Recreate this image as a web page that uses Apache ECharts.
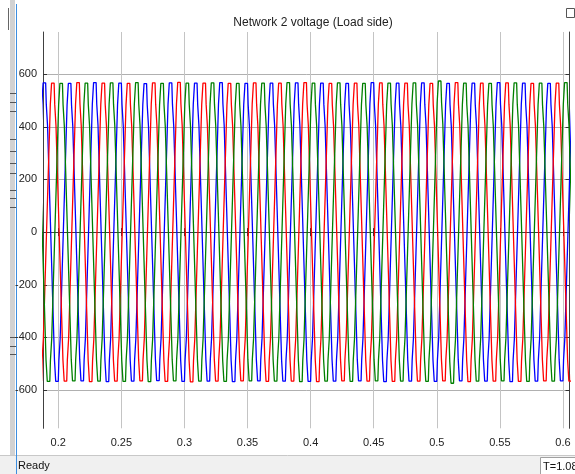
<!DOCTYPE html>
<html><head><meta charset="utf-8">
<script src="https://cdn.jsdelivr.net/npm/echarts@6/dist/echarts.min.js"></script>
<style>html,body{margin:0;padding:0;background:#fff}#c{width:575px;height:474px}</style>
</head><body><div id="c"></div>
<script>
// ---- data ----
const titleText = 'Network 2 voltage (Load side)';
const xTicks = [0.2, 0.25, 0.3, 0.35, 0.4, 0.45, 0.5, 0.55, 0.6];
const yTicks = [-600, -400, -200, 0, 200, 400, 600];
const xRange = [0.1879, 0.6052];
const yRange = [-745, 760];
// staircase levels of one 20 ms cycle, sampled every 0.5 ms (15-level waveform)
const cycleLevels = [0,1,2,3,4,5,6,6,7,7,7,7,7,6,6,5,4,3,2,1,0,-1,-2,-3,-4,-5,-6,-6,-7,-7,-7,-7,-7,-6,-6,-5,-4,-3,-2,-1];
const sampleStep = 0.0005;
const cyclePeriod = 0.02;
const firstCycle = -1;
// rising zero crossing of the first counted cycle for each phase (s)
const zeroA = 0.1845, zeroB = 0.1912, zeroC = 0.1978;
// peak voltage of each cycle (cycle -1 ... 21)
const peaksA = [566,567,565,568,566,564,567,566,568,565,566,567,566,565,568,566,567,565,566,568,566,565,567];
const peaksB = [565,566,568,566,565,567,569,566,565,567,566,568,565,566,567,566,565,568,566,567,565,566,566];
const peaksC = [567,565,566,567,568,565,566,567,565,566,568,566,567,565,566,567,574,566,565,567,566,568,566];
const seriesNames = ['Va', 'Vb', 'Vc'];

function buildPhase(zero, peaks) {
  const pts = [];
  for (let n = 0; n < peaks.length; n++) {
    const start = zero + (firstCycle + n) * cyclePeriod;
    const scale = peaks[n] / 7;
    for (let k = 0; k < cycleLevels.length; k++) {
      pts.push([+(start + k * sampleStep).toFixed(5), cycleLevels[k] * scale]);
    }
  }
  return pts;
}

const chart = echarts.init(document.getElementById('c'), null, {renderer: 'canvas'});
const font = 'Liberation Sans, Arial, sans-serif';
const frameLine = {show: true, lineStyle: {color: '#404040', width: 1}};
chart.setOption({
  animation: false,
  backgroundColor: '#ffffff',
  title: {text: titleText, left: 308, top: 12, textAlign: 'center',
    textStyle: {fontFamily: font, fontSize: 12, fontWeight: 'normal', color: '#222'}},
  grid: {left: 43, right: 5.5, top: 32, bottom: 45.7, containLabel: false},
  xAxis: [{
    type: 'value', min: xRange[0], max: xRange[1], position: 'bottom',
    axisLine: frameLine,
    axisTick: {show: true, inside: true, length: 4, lineStyle: {color: '#333'}, customValues: xTicks},
    axisLabel: {customValues: xTicks, fontFamily: font, fontSize: 11, color: '#222', margin: 9},
    splitLine: {show: true, customValues: xTicks, lineStyle: {color: '#c4c4c4', width: 1}}
  }, {
    type: 'value', min: xRange[0], max: xRange[1], position: 'top',
    axisLine: frameLine,
    axisTick: {show: true, inside: true, length: 4, lineStyle: {color: '#333'}, customValues: xTicks},
    axisLabel: {show: false}, splitLine: {show: false}
  }],
  yAxis: [{
    type: 'value', min: yRange[0], max: yRange[1], position: 'left',
    axisLine: frameLine,
    axisTick: {show: true, inside: true, length: 4, lineStyle: {color: '#333'}, customValues: yTicks},
    axisLabel: {customValues: yTicks, fontFamily: font, fontSize: 11, color: '#222', margin: 6},
    splitLine: {show: true, customValues: yTicks, lineStyle: {color: '#b0b0b0', width: 1}}
  }, {
    type: 'value', min: yRange[0], max: yRange[1], position: 'right',
    axisLine: frameLine,
    axisTick: {show: true, inside: true, length: 4, lineStyle: {color: '#333'}, customValues: yTicks},
    axisLabel: {show: false}, splitLine: {show: false}
  }],
  series: [
    {name: seriesNames[0], type: 'line', step: 'start', data: buildPhase(zeroA, peaksA), showSymbol: false, clip: true,
      lineStyle: {color: '#0000ff', width: 1.3}, itemStyle: {color: '#0000ff'}},
    {name: seriesNames[1], type: 'line', step: 'start', data: buildPhase(zeroB, peaksB), showSymbol: false, clip: true,
      lineStyle: {color: '#ff0000', width: 1.3}, itemStyle: {color: '#ff0000'}},
    {name: seriesNames[2], type: 'line', step: 'start', data: buildPhase(zeroC, peaksC), showSymbol: false, clip: true,
      lineStyle: {color: '#008000', width: 1.3}, itemStyle: {color: '#008000'}}
  ],
  graphic: [
    {type: 'rect', shape: {x: 10, y: 0, width: 5, height: 456}, style: {fill: '#d2d2d2'}, silent: true},
    {type: 'line', shape: {x1: 16.5, y1: 4, x2: 16.5, y2: 474}, style: {stroke: '#3d8ee0', lineWidth: 1}},
    {type: 'line', shape: {x1: 8.5, y1: 8, x2: 8.5, y2: 30}, style: {stroke: '#666', lineWidth: 1}},
    {type: 'group', children: [93,102,111,139,151,163,173,190,198,207,337,346,354].map(y => ({
      type: 'line', shape: {x1: 10, y1: y + 0.5, x2: 16, y2: y + 0.5}, style: {stroke: '#555', lineWidth: 1}}))},
    {type: 'rect', shape: {x: 0, y: 455, width: 575, height: 19}, style: {fill: '#f0f0f0'}},
    {type: 'line', shape: {x1: 0, y1: 455.5, x2: 575, y2: 455.5}, style: {stroke: '#c8c8c8', lineWidth: 1}},
    {type: 'line', shape: {x1: 16.5, y1: 455, x2: 16.5, y2: 474}, style: {stroke: '#3d8ee0', lineWidth: 1}},
    {type: 'text', x: 18, y: 460, style: {text: 'Ready', font: '11px ' + font, fill: '#111'}},
    {type: 'rect', shape: {x: 540.5, y: 457.5, width: 40, height: 17}, style: {fill: '#fff', stroke: '#a0a0a0', lineWidth: 1}},
    {type: 'text', x: 543, y: 461, style: {text: 'T=1.083', font: '11px ' + font, fill: '#111'}},
    {type: 'rect', shape: {x: 566.5, y: 8.5, width: 8, height: 9}, style: {fill: '#fff', stroke: '#555', lineWidth: 1}}
  ]
});
</script></body></html>
